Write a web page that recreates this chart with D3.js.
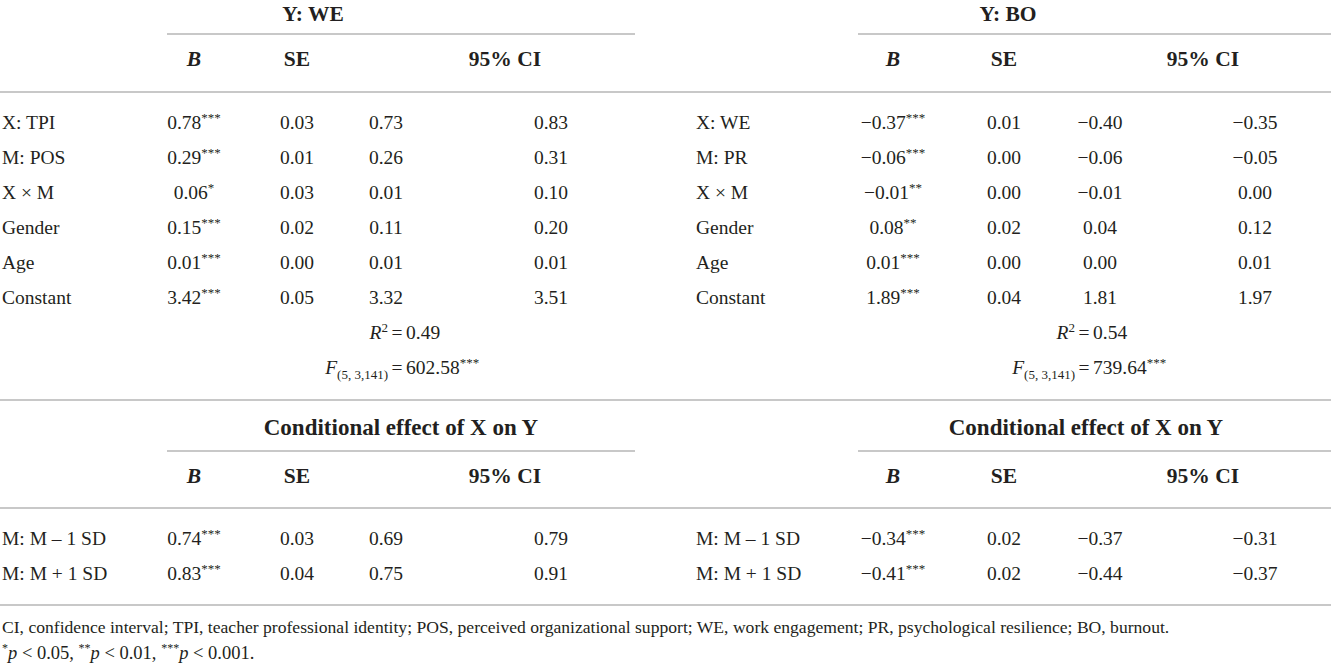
<!DOCTYPE html>
<html>
<head>
<meta charset="utf-8">
<script src="https://cdn.jsdelivr.net/npm/d3@7"></script>
<style>
  body { margin: 0; background: #fff; }
  text { font-family: "Liberation Serif", "DejaVu Serif", serif; fill: #231f20; }
</style>
</head>
<body>
<div id="chart"></div>
<script>
// table values
var rowsWE = ["X: TPI", "M: POS", "X \u00d7 M", "Gender", "Age", "Constant"];
var bWE = [0.78, 0.29, 0.06, 0.15, 0.01, 3.42];
var starsWE = [3, 3, 1, 3, 3, 3];
var seWE = [0.03, 0.01, 0.03, 0.02, 0.00, 0.05];
var loWE = [0.73, 0.26, 0.01, 0.11, 0.01, 3.32];
var hiWE = [0.83, 0.31, 0.10, 0.20, 0.01, 3.51];

var rowsBO = ["X: WE", "M: PR", "X \u00d7 M", "Gender", "Age", "Constant"];
var bBO = [-0.37, -0.06, -0.01, 0.08, 0.01, 1.89];
var starsBO = [3, 3, 2, 2, 3, 3];
var seBO = [0.01, 0.00, 0.00, 0.02, 0.00, 0.04];
var loBO = [-0.40, -0.06, -0.01, 0.04, 0.00, 1.81];
var hiBO = [-0.35, -0.05, 0.00, 0.12, 0.01, 1.97];

var r2 = [0.49, 0.54];
var fVal = [602.58, 739.64];
var fDf = "(5, 3,141)";

var condRows = ["M: M \u2013 1 SD", "M: M + 1 SD"];
var condBWE = [0.74, 0.83], condStarsWE = [3, 3];
var condSEWE = [0.03, 0.04], condLoWE = [0.69, 0.75], condHiWE = [0.79, 0.91];
var condBBO = [-0.34, -0.41], condStarsBO = [3, 3];
var condSEBO = [0.02, 0.02], condLoBO = [-0.37, -0.44], condHiBO = [-0.31, -0.37];

var titles = ["Y: WE", "Y: BO"];
var condTitle = "Conditional effect of X on Y";
var note1 = "CI, confidence interval; TPI, teacher professional identity; POS, perceived organizational support; WE, work engagement; PR, psychological resilience; BO, burnout.";

var W = 1331, H = 664;
var fmt = d3.format(".2f");
var lineColor = "#c8c8c8";

var svg = d3.select("#chart").append("svg")
    .attr("width", W)
    .attr("height", H);

// column positions for the two halves
var cols = ["label", "B", "SE", "lo", "hi", "ci", "title", "cond", "eq", "ruleStart", "ruleEnd"];
var colX = [
    d3.scaleOrdinal().domain(cols).range([2, 194, 297, 386, 551, 505, 313, 401, 397, 167, 635]),
    d3.scaleOrdinal().domain(cols).range([696, 893, 1004, 1100, 1255, 1203, 1008, 1086, 1084, 858, 1331])
];

// row baselines
var yTop = d3.scaleLinear().domain([0, 1]).range([129, 164]);
var yCond = d3.scaleLinear().domain([0, 1]).range([545, 580]);

function hline(y, x1, x2) {
    svg.append("line")
        .attr("x1", x1).attr("x2", x2)
        .attr("y1", y).attr("y2", y)
        .attr("stroke", lineColor)
        .attr("stroke-width", 2);
}

function txt(x, y, s, anchor, size, weight) {
    return svg.append("text")
        .attr("x", x).attr("y", y)
        .attr("text-anchor", anchor || "middle")
        .attr("font-size", size || 19.5)
        .attr("font-weight", weight || "normal")
        .text(s);
}

function starred(x, y, v, n) {
    var t = txt(x, y, fmt(v));
    t.append("tspan")
        .attr("font-size", 13)
        .attr("dy", -7)
        .text("*".repeat(n));
}

function headerRow(sx, y) {
    txt(sx("B"), y, "B", "middle", 21.5, "bold").attr("font-style", "italic");
    txt(sx("SE"), y, "SE", "middle", 21.5, "bold");
    txt(sx("ci"), y, "95% CI", "middle", 21.5, "bold");
}

// rules
hline(34, colX[0]("ruleStart"), colX[0]("ruleEnd"));
hline(34, colX[1]("ruleStart"), colX[1]("ruleEnd"));
hline(92, 0, W);
hline(400, 0, W);
hline(451, colX[0]("ruleStart"), colX[0]("ruleEnd"));
hline(451, colX[1]("ruleStart"), colX[1]("ruleEnd"));
hline(508, 0, W);
hline(605, 0, W);

var halves = [
    { rows: rowsWE, b: bWE, stars: starsWE, se: seWE, lo: loWE, hi: hiWE,
      cb: condBWE, cs: condStarsWE, cse: condSEWE, clo: condLoWE, chi: condHiWE },
    { rows: rowsBO, b: bBO, stars: starsBO, se: seBO, lo: loBO, hi: hiBO,
      cb: condBBO, cs: condStarsBO, cse: condSEBO, clo: condLoBO, chi: condHiBO }
];

halves.forEach(function(h, k) {
    var sx = colX[k];

    txt(sx("title"), 21, titles[k], "middle", 21.5, "bold");
    headerRow(sx, 66);

    h.rows.forEach(function(r, i) {
        var y = yTop(i);
        txt(sx("label"), y, r, "start");
        starred(sx("B"), y, h.b[i], h.stars[i]);
        txt(sx("SE"), y, fmt(h.se[i]));
        txt(sx("lo"), y, fmt(h.lo[i]));
        txt(sx("hi"), y, fmt(h.hi[i]));
    });

    // model fit, "=" lined up
    var eq = sx("eq");
    var rt = txt(eq - 9, 339, "", "end");
    rt.append("tspan").attr("font-style", "italic").text("R");
    rt.append("tspan").attr("font-size", 13).attr("dy", -7).text("2");
    txt(eq, 339, "=");
    txt(eq + 9, 339, fmt(r2[k]), "start");

    var ft = txt(eq - 9, 374, "", "end");
    ft.append("tspan").attr("font-style", "italic").text("F");
    ft.append("tspan").attr("font-size", 13).attr("dy", 5).text(fDf);
    txt(eq, 374, "=");
    var fv = txt(eq + 9, 374, fmt(fVal[k]), "start");
    fv.append("tspan").attr("font-size", 13).attr("dy", -7).text("***");

    // conditional effects
    txt(sx("cond"), 435, condTitle, "middle", 23, "bold");
    headerRow(sx, 483);
    condRows.forEach(function(r, i) {
        var y = yCond(i);
        txt(sx("label"), y, r, "start");
        starred(sx("B"), y, h.cb[i], h.cs[i]);
        txt(sx("SE"), y, fmt(h.cse[i]));
        txt(sx("lo"), y, fmt(h.clo[i]));
        txt(sx("hi"), y, fmt(h.chi[i]));
    });
});

// notes
txt(2, 633, note1, "start", 17.6);
var n2 = txt(2, 659, "", "start", 18.5);
var pv = [["*", "0.05, "], ["**", "0.01, "], ["***", "0.001."]];
pv.forEach(function(p) {
    n2.append("tspan").attr("font-size", 12).attr("dy", -7).text(p[0]);
    n2.append("tspan").attr("dy", 7).attr("font-style", "italic").text("p");
    n2.append("tspan").text(" < " + p[1]);
});
</script>
</body>
</html>
